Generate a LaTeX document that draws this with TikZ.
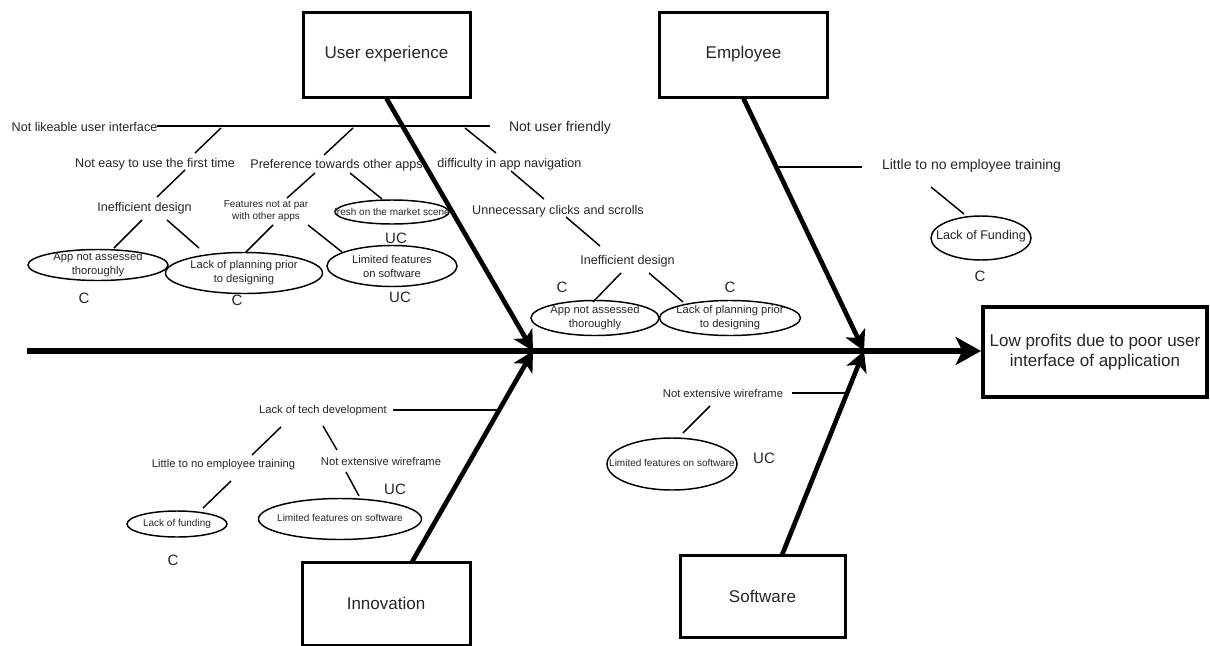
\documentclass[tikz,border=0pt]{standalone}
\usepackage{fontspec}
\setmainfont{Liberation Sans}
\usetikzlibrary{arrows.meta,shapes.geometric}
\begin{document}
\begin{tikzpicture}[x=0.75pt,y=-0.75pt,
  ink/.style={text=black!85},
  txt/.style={ink,inner sep=0pt,text height=0.72em,text depth=0pt},
  fM/.style={font=\fontsize{9.45pt}{11pt}\selectfont},
  fS/.style={font=\fontsize{8.4pt}{10.5pt}\selectfont},
  fXS/.style={font=\fontsize{7.5pt}{9pt}\selectfont},
  fL/.style={font=\fontsize{10.5pt}{12pt}\selectfont},
  cls/.style={txt,font=\fontsize{11.25pt}{13pt}\selectfont},
  cat/.style={draw,line width=2.25pt,fill=white,ink,align=center,
    font=\fontsize{12.75pt}{15pt}\selectfont},
  oval/.style={ellipse,draw,line width=1.1pt,inner sep=0pt},
  otxt/.style={ink,inner sep=0pt,align=center},
  twig/.style={line width=1.1pt},
  limb/.style={line width=2.2pt},
  bone/.style={line width=3.5pt,-{Stealth[length=15pt,width=16pt,inset=4pt]}},
  spine/.style={line width=4.5pt,-{Stealth[length=19pt,width=21pt,inset=5pt]}}
]
\useasboundingbox[fill=white] (0,0) rectangle (1210,646);

% ---------- category boxes and effect ----------
\node[cat,minimum width=167*.75pt,minimum height=85*.75pt] (ux)  at (386.5,54.5) {User experience};
\node[cat,minimum width=168*.75pt,minimum height=85*.75pt] (emp) at (743.5,54.5) {Employee};
\node[cat,minimum width=168*.75pt,minimum height=83*.75pt] (inn) at (386,603.5) {Innovation};
\node[cat,minimum width=165*.75pt,minimum height=82*.75pt] (sw)  at (762.5,596) {Software};
\node[cat,line width=3pt,minimum width=224*.75pt,minimum height=90*.75pt] (res) at (1095,352)
  {Low profits due to poor user\\interface of application};

% ---------- spine and main bones ----------
\coordinate (tail) at (27,351);
\coordinate (j1) at (533,351);
\coordinate (j2) at (864,351);
\coordinate (b3) at (412,562);
\coordinate (b4) at (782,555);
\draw[bone] (ux.south) -- (j1);
\draw[bone] (emp.south) -- (j2);
\draw[bone] (b3) -- (j1);
\draw[bone] (b4) -- (j2);
\draw[spine] (tail) -- (tail -| res.west);

% ---------- user experience branch ----------
\coordinate (l1a) at (157,126);
\coordinate (l1b) at (490,126);
\draw[limb] (l1a) -- (l1b);
\node[txt,fM] (t1) at (84.5,127) {Not likeable user interface};
\node[txt,fL] (t2) at (560,127) {Not user friendly};
\node[txt,fM] (t3) at (155,163) {Not easy to use the first time};
\node[txt,fM] (t4) at (144.5,207) {Inefficient design};
\node[txt,fM] (t5) at (336.5,164) {Preference towards other apps};
\node[otxt,fXS] (t6) at (266,211) {Features not at par\\with other apps};
\node[txt,fM] (t7) at (509.5,163) {difficulty in app navigation};
\node[txt,fM] (t8) at (558,210) {Unnecessary clicks and scrolls};
\node[txt,fM] (t9) at (627.5,260) {Inefficient design};

\node[oval,minimum width=140*.75pt,minimum height=31*.75pt] (e1) at (98,265) {};
\node[otxt,fS] (e1t) at (e1) {App not assessed\\thoroughly};
\node[oval,minimum width=157*.75pt,minimum height=41*.75pt] (e2) at (244,273) {};
\node[otxt,fS] (e2t) at (e2) {Lack of planning prior\\to designing};
\node[oval,minimum width=114*.75pt,minimum height=24*.75pt] (e3) at (392,212) {};
\node[otxt,fXS] (e3t) at (e3) {fresh on the market scene};
\node[oval,minimum width=130*.75pt,minimum height=41*.75pt] (e4) at (392,266) {};
\node[otxt,fS] (e4t) at (e4) {Limited features\\on software};
\node[oval,minimum width=128*.75pt,minimum height=35*.75pt] (e5) at (595,318) {};
\node[otxt,fS] (e5t) at (e5) {App not assessed\\thoroughly};
\node[oval,minimum width=141*.75pt,minimum height=35*.75pt] (e6) at (730,318) {};
\node[otxt,fS] (e6t) at (e6) {Lack of planning prior\\to designing};

\node[cls] (c1) at (84,299) {C};
\node[cls] (c2) at (237,301) {C};
\node[cls] (c3) at (396,239) {UC};
\node[cls] (c4) at (400,298) {UC};
\node[cls] (c5) at (562,288) {C};
\node[cls] (c6) at (730,288) {C};

\coordinate (a1) at (221,128); \coordinate (a2) at (195,153);
\coordinate (b1) at (185,170); \coordinate (b2) at (157,197);
\coordinate (c1a) at (142,220); \coordinate (c1b) at (114,248);
\coordinate (d1) at (167,220); \coordinate (d2) at (199,248);
\coordinate (f1) at (353,128); \coordinate (f2) at (324,155);
\coordinate (g1) at (315,173); \coordinate (g2) at (287,198);
\coordinate (h1) at (350,173); \coordinate (h2) at (382,199);
\coordinate (i1) at (273,225); \coordinate (i2) at (246,252);
\coordinate (k1) at (308,225); \coordinate (k2) at (342,252);
\coordinate (m1) at (465,128); \coordinate (m2) at (496,153);
\coordinate (n1) at (511,171); \coordinate (n2) at (544,199);
\coordinate (o1) at (566,217); \coordinate (o2) at (600,246);
\coordinate (p1) at (621,273); \coordinate (p2) at (593,302);
\coordinate (q1) at (649,273); \coordinate (q2) at (683,302);
\foreach \u/\v in {a1/a2,b1/b2,c1a/c1b,d1/d2,f1/f2,g1/g2,h1/h2,i1/i2,k1/k2,m1/m2,n1/n2,o1/o2,p1/p2,q1/q2}
  \draw[twig] (\u) -- (\v);

% ---------- employee branch ----------
\coordinate (l2a) at (778,167);
\coordinate (l2b) at (862,167);
\draw[limb] (l2a) -- (l2b);
\node[txt,fL] (t10) at (971.5,165) {Little to no employee training};
\coordinate (r1) at (931,187); \coordinate (r2) at (964,214);
\draw[twig] (r1) -- (r2);
\node[oval,minimum width=100*.75pt,minimum height=44*.75pt] (e7) at (981,238) {};
\node[otxt,fM] (e7t) at (981,236) {Lack of Funding};
\node[cls] (c7) at (980,277) {C};

% ---------- innovation branch ----------
\coordinate (l3a) at (393,410);
\coordinate (l3b) at (499,410);
\draw[limb] (l3a) -- (l3b);
\node[txt,fS] (t11) at (323,409) {Lack of tech development};
\node[txt,fS] (t12) at (223.5,463) {Little to no employee training};
\node[txt,fS] (t13) at (381,461) {Not extensive wireframe};
\coordinate (s1) at (281,427); \coordinate (s2) at (252,455);
\coordinate (u1) at (323,426); \coordinate (u2) at (337,450);
\coordinate (v1) at (231,481); \coordinate (v2) at (203,508);
\coordinate (w1) at (346,472); \coordinate (w2) at (359,496);
\foreach \u/\v in {s1/s2,u1/u2,v1/v2,w1/w2}
  \draw[twig] (\u) -- (\v);
\node[oval,minimum width=100*.75pt,minimum height=26*.75pt] (e8) at (177,524) {};
\node[otxt,fXS] (e8t) at (e8) {Lack of funding};
\node[oval,minimum width=163*.75pt,minimum height=41*.75pt] (e9) at (340,519) {};
\node[otxt,fXS] (e9t) at (340,518) {Limited features on software};
\node[cls] (c8) at (395,490) {UC};
\node[cls] (c9) at (173,561) {C};

% ---------- software branch ----------
\coordinate (l4a) at (792,393);
\coordinate (l4b) at (847,393);
\draw[limb] (l4a) -- (l4b);
\node[txt,fS] (t14) at (723,393) {Not extensive wireframe};
\coordinate (x1) at (710,406); \coordinate (x2) at (683,433);
\draw[twig] (x1) -- (x2);
\node[oval,minimum width=130*.75pt,minimum height=52*.75pt] (e10) at (672,464) {};
\node[otxt,fXS] (e10t) at (672,463) {Limited features on software};
\node[cls] (c10) at (764,459) {UC};
\end{tikzpicture}
\end{document}
